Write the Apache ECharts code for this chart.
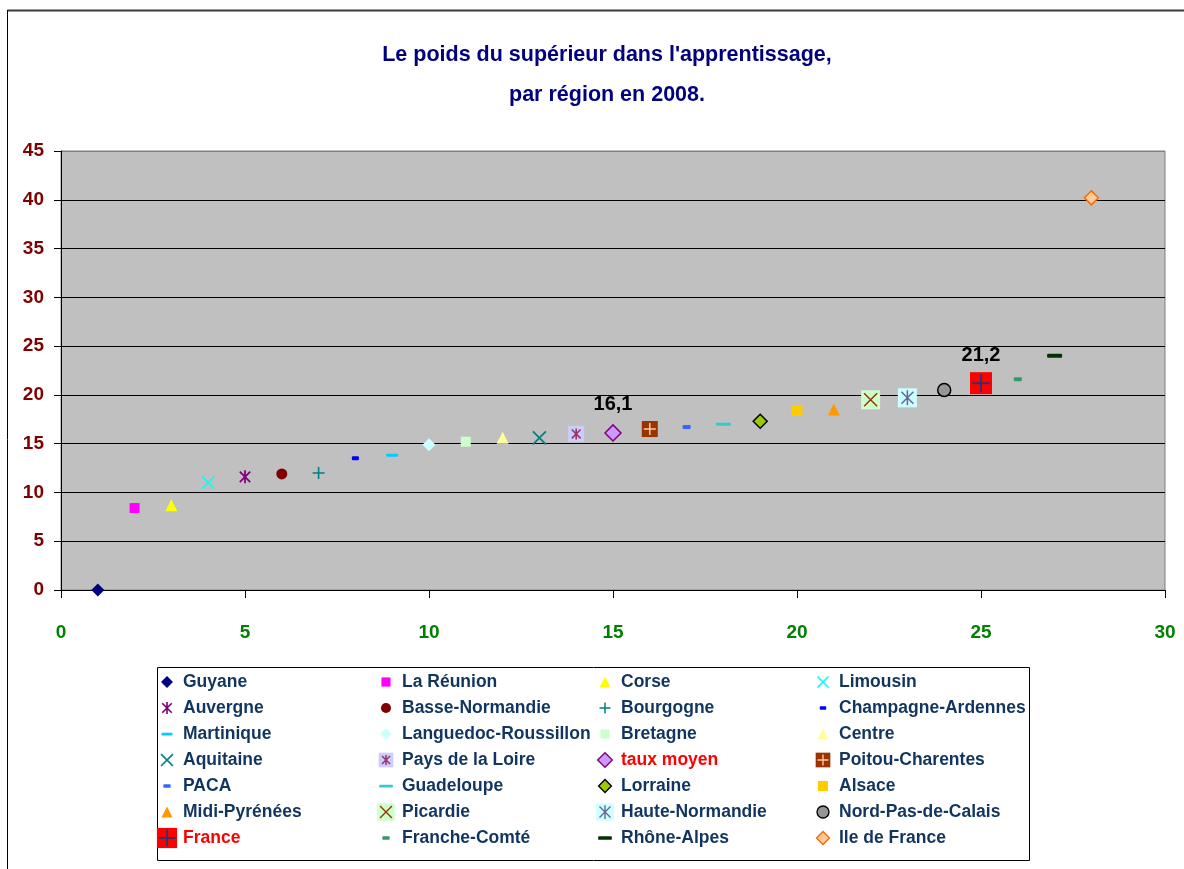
<!DOCTYPE html>
<html>
<head>
<meta charset="utf-8">
<title>Le poids du supérieur dans l'apprentissage</title>
<script src="https://cdn.jsdelivr.net/npm/echarts@6/dist/echarts.min.js"></script>
<style>
    html, body { margin: 0; padding: 0; background: #fff; }
    #chart { width: 1184px; height: 869px; }
</style>
</head>
<body>
<div id="chart"></div>

<script>
    // données
    var regions = ['Guyane', 'La Réunion', 'Corse', 'Limousin',
        'Auvergne', 'Basse-Normandie', 'Bourgogne', 'Champagne-Ardennes',
        'Martinique', 'Languedoc-Roussillon', 'Bretagne', 'Centre',
        'Aquitaine', 'Pays de la Loire', 'taux moyen', 'Poitou-Charentes',
        'PACA', 'Guadeloupe', 'Lorraine', 'Alsace',
        'Midi-Pyrénées', 'Picardie', 'Haute-Normandie', 'Nord-Pas-de-Calais',
        'France', 'Franche-Comté', 'Rhône-Alpes', 'Ile de France'];
    var ranks = [1, 2, 3, 4, 5, 6, 7, 8, 9, 10, 11, 12, 13, 14,
        15, 16, 17, 18, 19, 20, 21, 22, 23, 24, 25, 26, 27, 28];
    var values = [0, 8.4, 8.7, 11.0, 11.6, 11.9, 12.0, 13.5, 13.8, 14.9, 15.2, 15.6, 15.6, 16.0,
        16.1, 16.5, 16.7, 17.0, 17.3, 18.4, 18.5, 19.5, 19.7, 20.5, 21.2, 21.6, 24.0, 40.2];
    var labelled = ['taux moyen', 'France'];
    var redNames = ['taux moyen', 'France'];

    // petites formes façon Excel
    function svg(body) {
        return 'image://data:image/svg+xml;charset=utf-8,' + encodeURIComponent(
            '<svg xmlns="http://www.w3.org/2000/svg" width="24" height="24" viewBox="0 0 24 24">' + body + '</svg>');
    }
    function diamond(fill, r, stroke) {
        return '<polygon points="' + (12 - r) + ',12 12,' + (12 - r) + ' ' + (12 + r) + ',12 12,' + (12 + r) + '" fill="' + fill + '"' +
            (stroke ? ' stroke="' + stroke + '" stroke-width="1.5"' : '') + '/>';
    }
    function square(fill, s) {
        return '<rect x="' + (12 - s / 2) + '" y="' + (12 - s / 2) + '" width="' + s + '" height="' + s + '" fill="' + fill + '"/>';
    }
    function triangle(fill, s) {
        return '<polygon points="12,' + (12 - s / 2) + ' ' + (12 + s / 2) + ',' + (12 + s / 2) + ' ' + (12 - s / 2) + ',' + (12 + s / 2) + '" fill="' + fill + '"/>';
    }
    function cross(col, h, w) {
        return '<path d="M' + (12 - h) + ' ' + (12 - h) + 'L' + (12 + h) + ' ' + (12 + h) + 'M' + (12 + h) + ' ' + (12 - h) + 'L' + (12 - h) + ' ' + (12 + h) +
            '" stroke="' + col + '" stroke-width="' + (w || 1.8) + '" fill="none"/>';
    }
    function plus(col, h, w) {
        return '<path d="M' + (12 - h) + ' 12L' + (12 + h) + ' 12M12 ' + (12 - h) + 'L12 ' + (12 + h) +
            '" stroke="' + col + '" stroke-width="' + (w || 1.6) + '" fill="none"/>';
    }
    function star(col, h, w) {
        var d = h * 0.8;
        return '<path d="M' + (12 - d) + ' ' + (12 - d) + 'L' + (12 + d) + ' ' + (12 + d) + 'M' + (12 + d) + ' ' + (12 - d) + 'L' + (12 - d) + ' ' + (12 + d) +
            'M12 ' + (12 - h) + 'L12 ' + (12 + h) + '" stroke="' + col + '" stroke-width="' + (w || 1.8) + '" fill="none"/>';
    }
    function dash(fill, w, h) {
        return '<rect x="' + (12 - w / 2) + '" y="' + (12 - h / 2) + '" width="' + w + '" height="' + h + '" rx="1" fill="' + fill + '"/>';
    }
    function circle(fill, r, stroke) {
        return '<circle cx="12" cy="12" r="' + r + '" fill="' + fill + '"' +
            (stroke ? ' stroke="' + stroke + '" stroke-width="1.5"' : '') + '/>';
    }

    var markers = {
        'Guyane': svg(diamond('#000080', 6.5)),
        'La Réunion': svg(square('#FF00FF', 10)),
        'Corse': svg(triangle('#FFFF00', 12)),
        'Limousin': svg(cross('#00FFFF', 6)),
        'Auvergne': svg(star('#800080', 6.5)),
        'Basse-Normandie': svg(circle('#800000', 5.5)),
        'Bourgogne': svg(plus('#008080', 6)),
        'Champagne-Ardennes': svg(dash('#0000FF', 7, 4)),
        'Martinique': svg(dash('#00CCFF', 12, 3)),
        'Languedoc-Roussillon': svg(diamond('#CCFFFF', 6.5)),
        'Bretagne': svg(square('#CCFFCC', 10)),
        'Centre': svg(triangle('#FFFF99', 12)),
        'Aquitaine': svg(cross('#008080', 6.5)),
        'Pays de la Loire': svg(square('#CCCCFF', 16) + star('#993366', 5.5, 1.6)),
        'taux moyen': svg(diamond('#CC99FF', 8, '#800080')),
        'Poitou-Charentes': svg(square('#993300', 16) + plus('#FFCC99', 6, 1.5)),
        'PACA': svg(dash('#3366FF', 8, 4)),
        'Guadeloupe': svg(dash('#33CCCC', 15, 3)),
        'Lorraine': svg(diamond('#99CC00', 7, '#000000')),
        'Alsace': svg(square('#FFCC00', 11)),
        'Midi-Pyrénées': svg(triangle('#FF9900', 12)),
        'Picardie': svg(square('#CCFFCC', 19) + cross('#993300', 6.5, 1.5)),
        'Haute-Normandie': svg(square('#CCFFFF', 19) + star('#666699', 7.5, 1.5)),
        'Nord-Pas-de-Calais': svg(circle('#969696', 6.5, '#000000')),
        'France': svg(square('#FF0000', 22) + plus('#333366', 9, 2)),
        'Franche-Comté': svg(dash('#339966', 8, 4)),
        'Rhône-Alpes': svg(dash('#003300', 15, 4)),
        'Ile de France': svg(diamond('#FFCC99', 7, '#FF6600'))
    };

    var font = "'Liberation Sans', Arial, sans-serif";

    var series = [];
    for (var i = 0; i < regions.length; i++) {
        var name = regions[i];
        var s = {
            name: name,
            type: 'scatter',
            symbol: markers[name],
            symbolSize: 24,
            itemStyle: { opacity: 1 },
            data: [[ranks[i], values[i]]],
            z: 3
        };
        if (labelled.indexOf(name) >= 0) {
            s.label = {
                show: true,
                position: 'top',
                distance: 6,
                fontFamily: font,
                fontWeight: 'bold',
                fontSize: 20,
                color: '#000',
                formatter: function (p) {
                    return String(p.value[1]).replace('.', ',');
                }
            };
        }
        series.push(s);
    }

    // légende sur 4 colonnes
    var colLeft = [156, 375, 594, 812];
    var legends = [];
    for (var c = 0; c < 4; c++) {
        var items = [];
        for (var j = c; j < regions.length; j += 4) {
            var it = { name: regions[j] };
            if (redNames.indexOf(regions[j]) >= 0) {
                it.textStyle = { color: '#FF0000' };
            }
            items.push(it);
        }
        legends.push({
            orient: 'vertical',
            left: colLeft[c],
            top: 671,
            itemWidth: 22,
            itemHeight: 22,
            itemGap: 4,
            selectedMode: false,
            padding: 0,
            data: items,
            textStyle: {
                fontFamily: font,
                fontWeight: 'bold',
                fontSize: 17.5,
                color: '#12355F',
                lineHeight: 22
            }
        });
    }

    var chart = echarts.init(document.getElementById('chart'));

    var option = {
        animation: false,
        backgroundColor: '#fff',
        title: {
            text: "Le poids du supérieur dans l'apprentissage,\npar région en 2008.",
            left: 602,
            top: 30,
            textAlign: 'center',
            textStyle: {
                fontFamily: font,
                fontWeight: 'bold',
                fontSize: 21.5,
                lineHeight: 40,
                color: '#000080'
            }
        },
        legend: legends,
        grid: {
            left: 61,
            right: 19,
            top: 151,
            bottom: 279,
            show: true,
            backgroundColor: '#C0C0C0',
            borderColor: '#808080',
            borderWidth: 1
        },
        xAxis: {
            type: 'value',
            min: 0,
            max: 30,
            interval: 5,
            axisLine: { show: true, lineStyle: { color: '#000', width: 1 } },
            axisTick: { show: true, length: 8, lineStyle: { color: '#000' } },
            splitLine: { show: false },
            axisLabel: {
                margin: 33,
                fontFamily: font,
                fontWeight: 'bold',
                fontSize: 19,
                color: '#008000'
            }
        },
        yAxis: {
            type: 'value',
            min: 0,
            max: 45,
            interval: 5,
            axisLine: { show: true, lineStyle: { color: '#000', width: 1 } },
            axisTick: { show: true, length: 7, lineStyle: { color: '#000' } },
            splitLine: {
                show: true,
                lineStyle: {
                    color: ['#000', '#000', '#000', '#000', '#000', '#000', '#000', '#000', '#000', '#808080'],
                    width: 1
                }
            },
            axisLabel: {
                margin: 17,
                fontFamily: font,
                fontWeight: 'bold',
                fontSize: 19,
                color: '#800000'
            }
        },
        graphic: [
            {
                type: 'line',
                shape: { x1: 7.5, y1: 10.5, x2: 1184, y2: 10.5 },
                style: { stroke: '#3a3a3a', lineWidth: 2 }
            },
            {
                type: 'line',
                shape: { x1: 7.5, y1: 10, x2: 7.5, y2: 869 },
                style: { stroke: '#000', lineWidth: 1 }
            },
            {
                type: 'rect',
                shape: { x: 157.5, y: 667.5, width: 872, height: 193 },
                style: { fill: 'none', stroke: '#000', lineWidth: 1 }
            }
        ],
        series: series
    };

    chart.setOption(option);
</script>
</body>
</html>
